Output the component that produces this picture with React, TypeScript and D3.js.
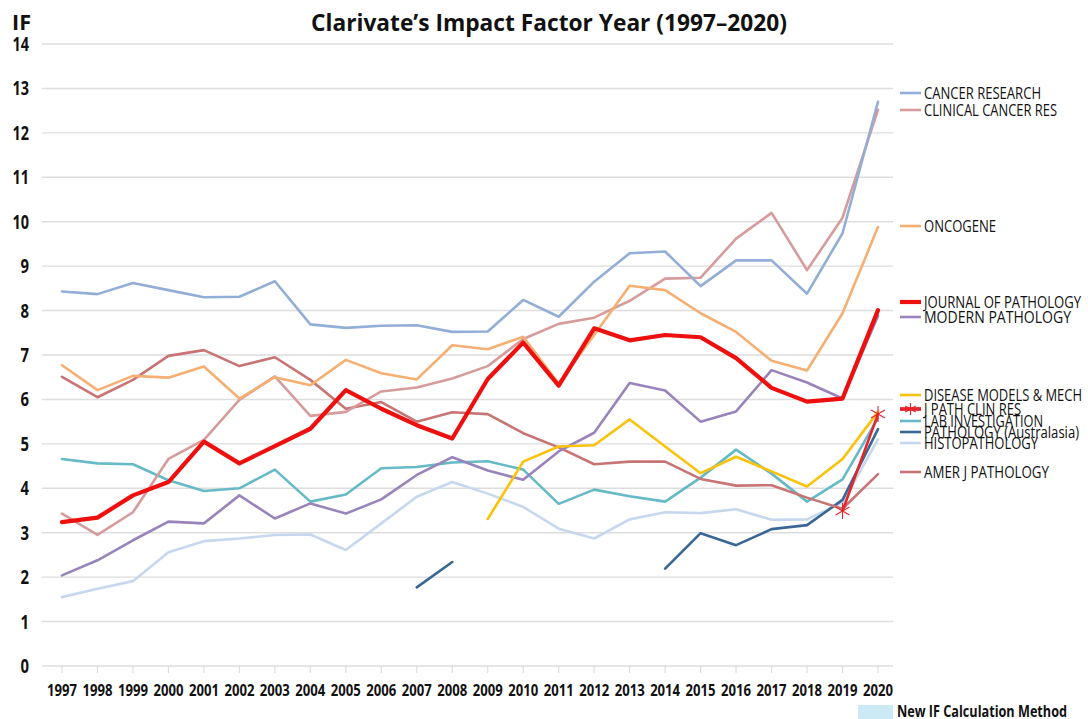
import React from "react";
import * as d3 from "d3";

const years = [1997, 1998, 1999, 2000, 2001, 2002, 2003, 2004, 2005, 2006, 2007, 2008, 2009, 2010, 2011, 2012, 2013, 2014, 2015, 2016, 2017, 2018, 2019, 2020];
const yTicks = [0, 1, 2, 3, 4, 5, 6, 7, 8, 9, 10, 11, 12, 13, 14];

const cancerResearch = [8.43, 8.37, 8.62, 8.46, 8.30, 8.31, 8.66, 7.69, 7.61, 7.66, 7.67, 7.52, 7.53, 8.24, 7.86, 8.65, 9.29, 9.33, 8.55, 9.13, 9.13, 8.38, 9.74, 12.70];
const clinicalCancerRes = [3.43, 2.95, 3.46, 4.66, 5.09, 5.99, 6.52, 5.63, 5.72, 6.18, 6.27, 6.47, 6.75, 7.36, 7.70, 7.84, 8.22, 8.72, 8.74, 9.62, 10.20, 8.91, 10.09, 12.52];
const oncogene = [6.77, 6.21, 6.53, 6.49, 6.74, 6.02, 6.50, 6.32, 6.89, 6.59, 6.45, 7.22, 7.13, 7.41, 6.36, 7.45, 8.56, 8.46, 7.94, 7.52, 6.87, 6.65, 7.94, 9.88];
const journalOfPathology = [3.24, 3.34, 3.84, 4.14, 5.05, 4.56, 4.95, 5.34, 6.21, 5.79, 5.42, 5.12, 6.46, 7.28, 6.31, 7.60, 7.33, 7.45, 7.40, 6.93, 6.26, 5.95, 6.02, 8.01];
const modernPathology = [2.04, 2.38, 2.83, 3.25, 3.21, 3.84, 3.32, 3.66, 3.43, 3.75, 4.30, 4.70, 4.40, 4.19, 4.83, 5.25, 6.37, 6.20, 5.50, 5.73, 6.66, 6.38, 6.02, 7.88];
const diseaseModels = [null, null, null, null, null, null, null, null, null, null, null, null, 3.31, 4.60, 4.94, 4.97, 5.55, 4.94, 4.34, 4.71, 4.38, 4.04, 4.66, 5.72];
const jPathClinRes = [null, null, null, null, null, null, null, null, null, null, null, null, null, null, null, null, null, null, null, null, null, null, 3.49, 5.67];
const labInvestigation = [4.66, 4.56, 4.54, 4.18, 3.94, 4.00, 4.42, 3.70, 3.86, 4.45, 4.48, 4.58, 4.61, 4.42, 3.65, 3.97, 3.82, 3.70, 4.24, 4.87, 4.33, 3.70, 4.20, 5.58];
const pathologyAustralasia = [null, null, null, null, null, null, null, null, null, null, 1.77, 2.34, null, null, null, null, null, 2.19, 2.99, 2.72, 3.08, 3.17, 3.74, 5.33];
const histopathology = [1.55, 1.74, 1.91, 2.56, 2.81, 2.87, 2.95, 2.96, 2.61, 3.21, 3.81, 4.14, 3.88, 3.58, 3.09, 2.87, 3.30, 3.46, 3.44, 3.53, 3.29, 3.30, 3.68, 5.10];
const amerJPathology = [6.51, 6.05, 6.44, 6.98, 7.11, 6.75, 6.95, 6.44, 5.79, 5.94, 5.50, 5.71, 5.67, 5.24, 4.92, 4.54, 4.60, 4.60, 4.21, 4.06, 4.07, 3.79, 3.54, 4.32];

type S = { name: string; values: (number | null)[]; color: string; width: number; legendW: number; legendY: number; textW: number; star?: boolean };

const series: S[] = [
  { name: "CANCER RESEARCH", values: cancerResearch, color: "#93AED6", width: 2.6, legendW: 2.6, legendY: 93, textW: 117 },
  { name: "CLINICAL CANCER RES", values: clinicalCancerRes, color: "#D69C9B", width: 2.6, legendW: 2.6, legendY: 110, textW: 133 },
  { name: "ONCOGENE", values: oncogene, color: "#F5AF72", width: 2.6, legendW: 2.6, legendY: 226, textW: 72 },
  { name: "JOURNAL OF PATHOLOGY", values: journalOfPathology, color: "#EE0F0F", width: 4.2, legendW: 4.2, legendY: 302, textW: 157 },
  { name: "MODERN PATHOLOGY", values: modernPathology, color: "#9884BA", width: 2.6, legendW: 2.6, legendY: 317, textW: 147 },
  { name: "DISEASE MODELS & MECH", values: diseaseModels, color: "#FAC20A", width: 2.6, legendW: 2.6, legendY: 395, textW: 158 },
  { name: "J PATH CLIN RES", values: jPathClinRes, color: "#E8242A", width: 2.6, legendW: 3.8, legendY: 409, textW: 97, star: true },
  { name: "LAB INVESTIGATION", values: labInvestigation, color: "#66B9C6", width: 2.6, legendW: 2.6, legendY: 421, textW: 119 },
  { name: "PATHOLOGY (Australasia)", values: pathologyAustralasia, color: "#3A6696", width: 2.6, legendW: 2.6, legendY: 432, textW: 155 },
  { name: "HISTOPATHOLOGY", values: histopathology, color: "#C7D8EE", width: 2.6, legendW: 2.6, legendY: 443, textW: 114 },
  { name: "AMER J PATHOLOGY", values: amerJPathology, color: "#C87474", width: 2.6, legendW: 2.6, legendY: 472, textW: 125 },
];

const drawOrder = [
  "HISTOPATHOLOGY", "PATHOLOGY (Australasia)", "LAB INVESTIGATION", "AMER J PATHOLOGY", "MODERN PATHOLOGY",
  "CLINICAL CANCER RES", "CANCER RESEARCH", "ONCOGENE", "DISEASE MODELS & MECH", "JOURNAL OF PATHOLOGY", "J PATH CLIN RES",
];

const W = 1088, H = 719;
const x = d3.scaleLinear().domain([1997, 2020]).range([62, 878]);
const y = d3.scaleLinear().domain([0, 14]).range([666, 44]);
const FONT = "'Open Sans', 'Noto Sans', sans-serif";

function Star({ cx, cy, color, r = 7 }: { cx: number; cy: number; color: string; r?: number }) {
  const a = r * 0.87, b = r * 0.5;
  return (
    <g stroke={color} strokeWidth={1.1}>
      <line x1={cx} y1={cy - r} x2={cx} y2={cy + r} />
      <line x1={cx - a} y1={cy - b} x2={cx + a} y2={cy + b} />
      <line x1={cx - a} y1={cy + b} x2={cx + a} y2={cy - b} />
    </g>
  );
}

export default function App() {
  const line = d3
    .line<number | null>()
    .defined((d) => d != null)
    .x((_, i) => x(years[i]))
    .y((d) => y(d as number));

  const ordered = drawOrder.map((n) => series.find((s) => s.name === n)!);

  return (
    <svg width={W} height={H} style={{ position: "absolute", left: 0, top: 0, background: "#fff" }} fontFamily={FONT}>
      <rect x={0} y={0} width={W} height={H} fill="#fff" />
      {yTicks.map((t) => (
        <line key={t} x1={42} x2={893} y1={y(t)} y2={y(t)} stroke="#DDDDDD" strokeWidth={1.4} />
      ))}
      {years.map((yr) => (
        <line key={yr} x1={x(yr)} x2={x(yr)} y1={y(0)} y2={y(0) + 7} stroke="#DDDDDD" strokeWidth={1.2} />
      ))}
      {yTicks.map((t) => (
        <text key={t} x={29} y={y(t) + 7} textAnchor="end" fontWeight={700} fontSize={19} fill="#111"
          textLength={String(t).length === 1 ? 8.5 : 16.5} lengthAdjust="spacingAndGlyphs">
          {t}
        </text>
      ))}
      <text x={12} y={30} fontWeight={700} fontSize={21} fill="#111" textLength={19} lengthAdjust="spacingAndGlyphs">IF</text>
      {years.map((yr) => (
        <text key={yr} x={x(yr)} y={696} textAnchor="middle" fontWeight={700} fontSize={16.5} fill="#111"
          textLength={30} lengthAdjust="spacingAndGlyphs">
          {yr}
        </text>
      ))}
      <text x={311} y={31} fontWeight={700} fontSize={24} fill="#111" textLength={476} lengthAdjust="spacingAndGlyphs">
        Clarivate’s Impact Factor Year (1997–2020)
      </text>
      {ordered.map((s) => (
        <g key={s.name}>
          <path d={line(s.values) || ""} fill="none" stroke={s.color} strokeWidth={s.width} strokeLinejoin="round" strokeLinecap="round" />
          {s.star &&
            s.values.map((v, i) => (v == null ? null : <Star key={i} cx={x(years[i])} cy={y(v)} color={s.color} r={8} />))}
        </g>
      ))}
      {series.map((s) => (
        <g key={s.name}>
          <line x1={900} x2={921} y1={s.legendY} y2={s.legendY} stroke={s.color} strokeWidth={s.legendW} />
          {s.star && <Star cx={910.5} cy={s.legendY} color={s.color} r={6} />}
          <text x={924} y={s.legendY + 6} fontSize={16} fill="#111" textLength={s.textW} lengthAdjust="spacingAndGlyphs">
            {s.name}
          </text>
        </g>
      ))}
      <rect x={858} y={705} width={35} height={14} fill="#CCEAF5" />
      <text x={897} y={717} fontWeight={700} fontSize={16} fill="#111" textLength={170} lengthAdjust="spacingAndGlyphs">
        New IF Calculation Method
      </text>
    </svg>
  );
}
